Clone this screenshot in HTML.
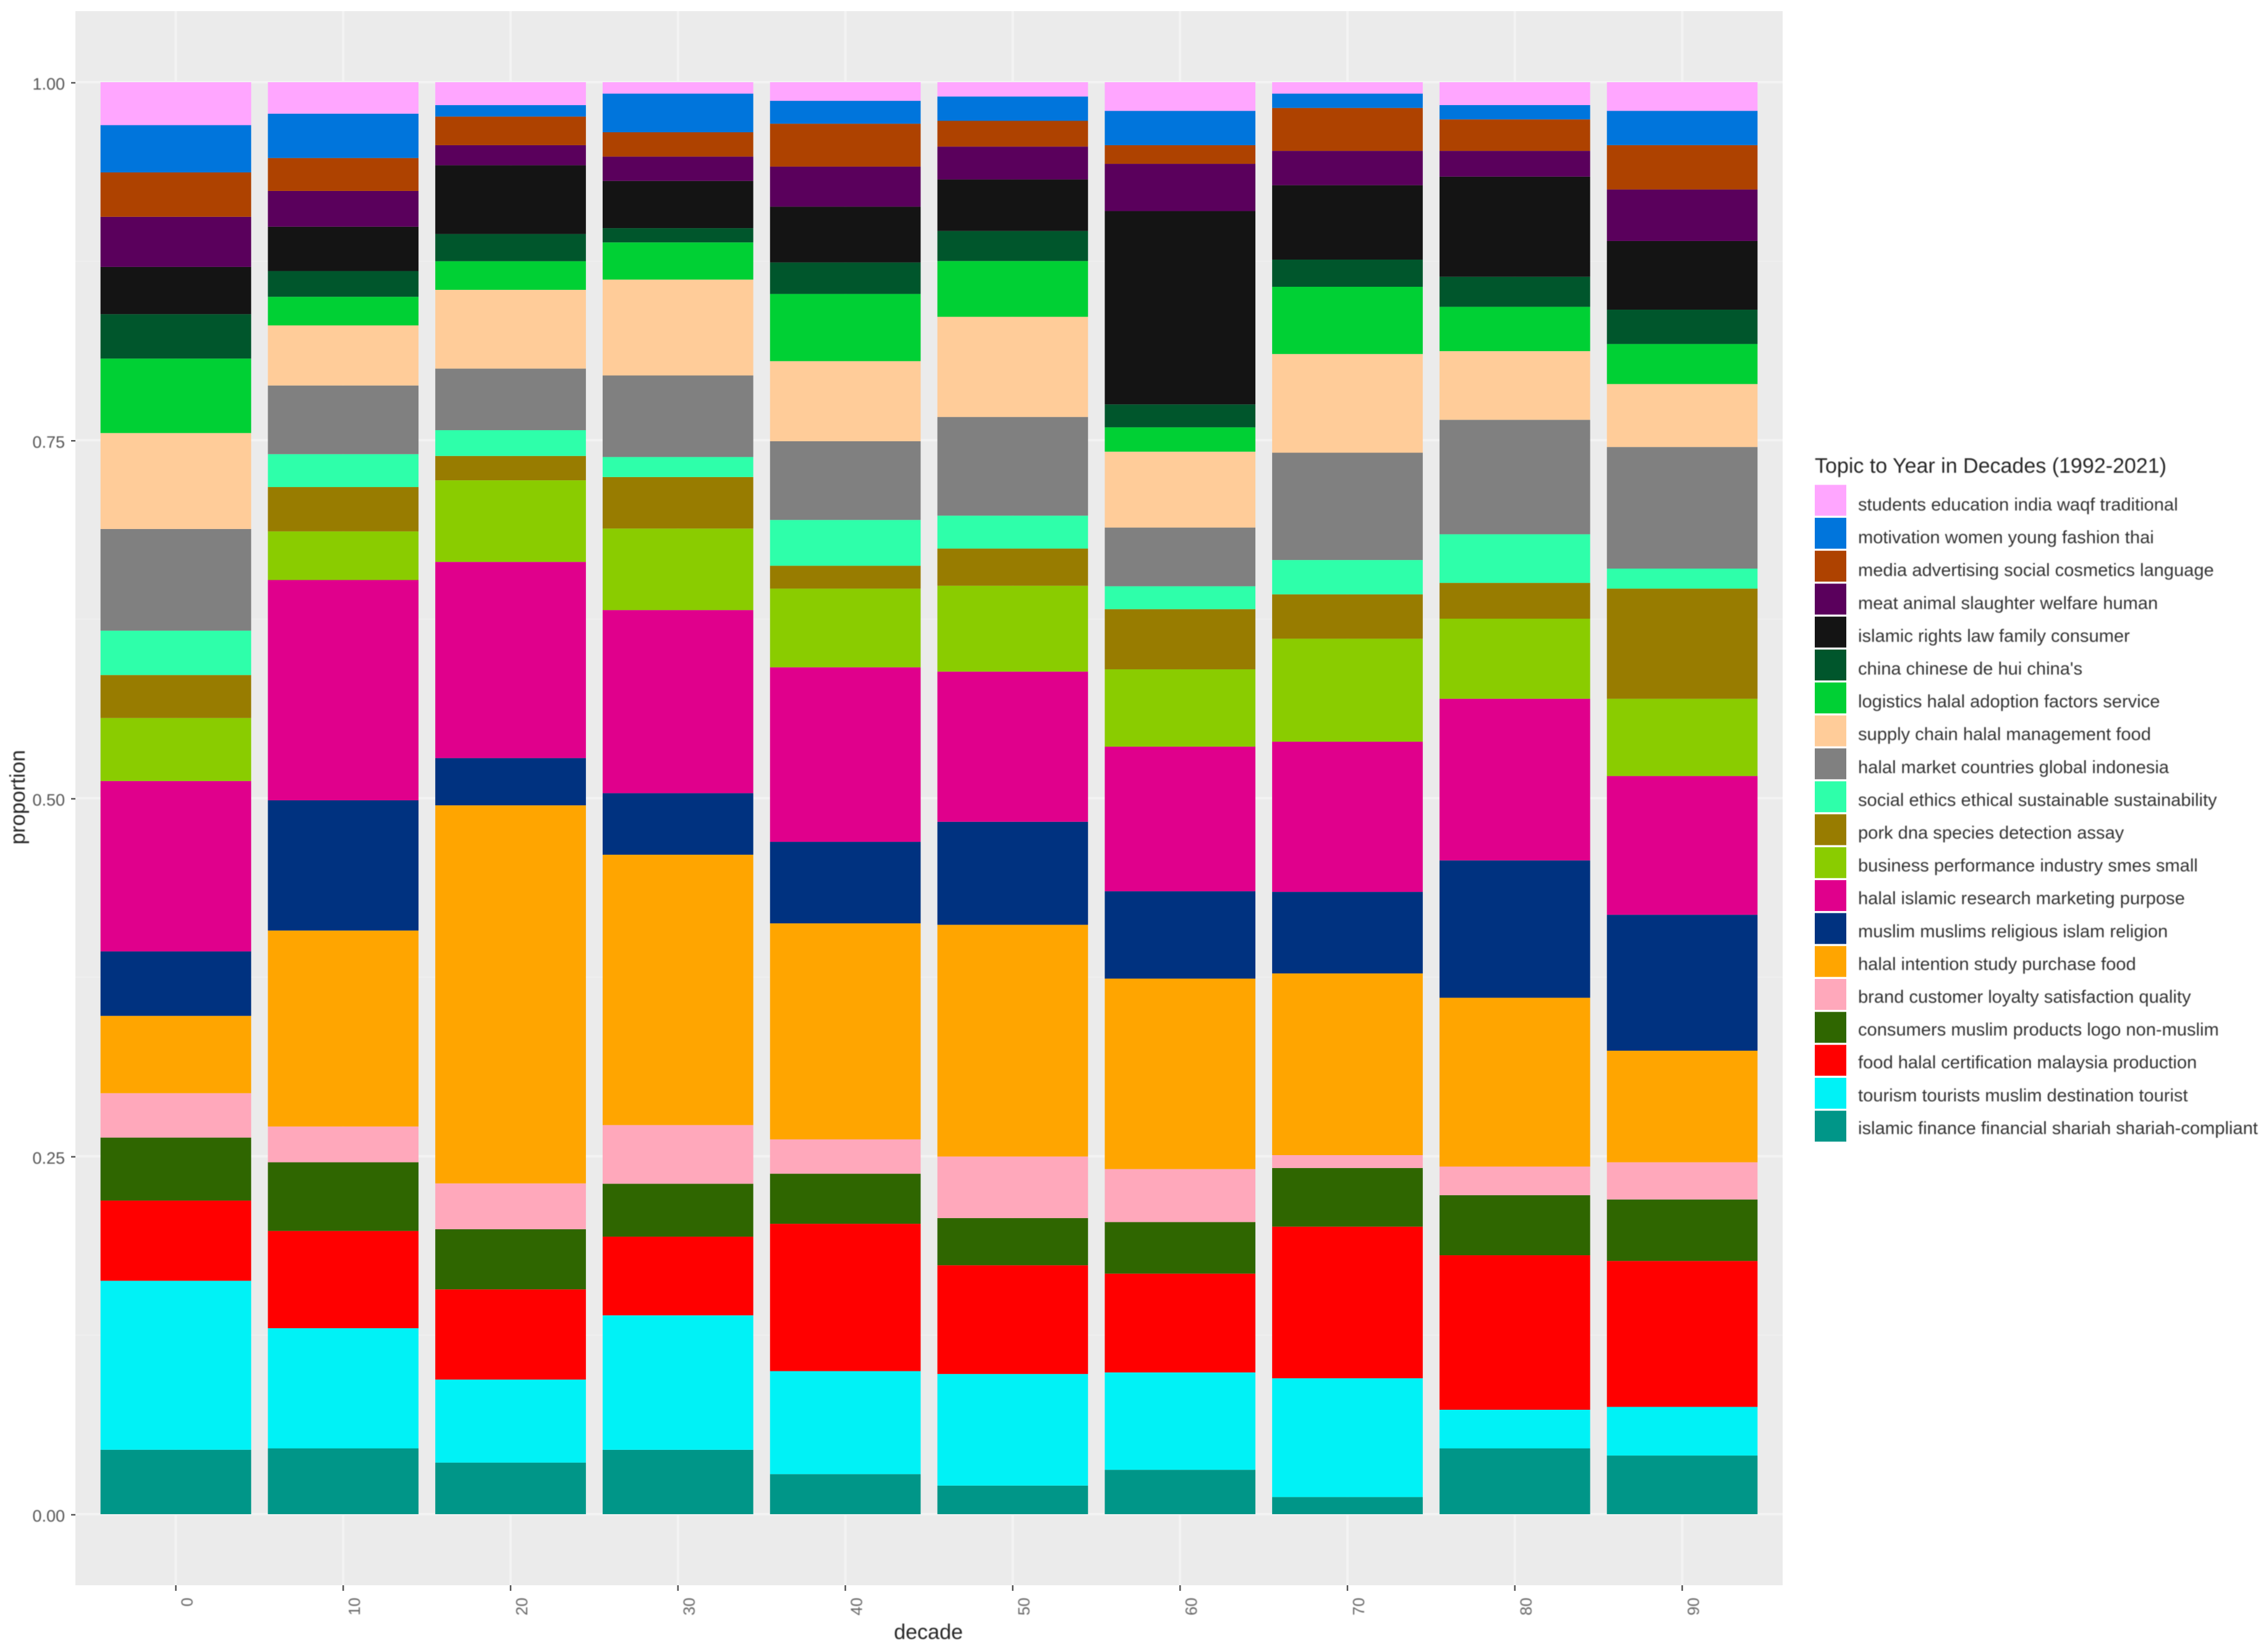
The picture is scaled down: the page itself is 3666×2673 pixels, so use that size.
<!DOCTYPE html>
<html lang="en">
<head>
<meta charset="utf-8">
<title>Topic to Year in Decades (1992-2021)</title>
<style>
  html, body { margin: 0; padding: 0; background: #ffffff; }
  svg { display: block; font-family: "Liberation Sans", Arial, sans-serif; }
  text { filter: blur(0.9px); }
</style>
</head>
<body>
<svg id="chart" xmlns="http://www.w3.org/2000/svg" width="3666" height="2673" viewBox="0 0 3666 2673">
  <rect x="0" y="0" width="3666" height="2673" fill="#ffffff"/>
  <rect x="122" y="18" width="2762" height="2547" fill="#ebebeb"/>
  <g id="grid"></g>
  <g id="bars"></g>
  <g id="y-axis"></g>
  <g id="x-axis"></g>
  <text x="1502" y="2652" font-size="34" text-anchor="middle" fill="#262626">decade</text>
  <text transform="translate(40 1290) rotate(-90)" font-size="34" text-anchor="middle" fill="#262626">proportion</text>
  <g id="legend">
    <text x="2936" y="765" font-size="34" fill="#262626">Topic to Year in Decades (1992-2021)</text>
  </g>
</svg>
<script>
// Categories and tick labels
const decades = ['0', '10', '20', '30', '40', '50', '60', '70', '80', '90'];
const yTicks = [0, 0.25, 0.5, 0.75, 1];
const yTickLabels = ['0.00', '0.25', '0.50', '0.75', '1.00'];
const yMinorTicks = [0.125, 0.375, 0.625, 0.875];

// Legend labels, top to bottom (stack order top to bottom)
const topics = [
  'students education india waqf traditional',
  'motivation women young fashion thai',
  'media advertising social cosmetics language',
  'meat animal slaughter welfare human',
  'islamic rights law family consumer',
  "china chinese de hui china's",
  'logistics halal adoption factors service',
  'supply chain halal management food',
  'halal market countries global indonesia',
  'social ethics ethical sustainable sustainability',
  'pork dna species detection assay',
  'business performance industry smes small',
  'halal islamic research marketing purpose',
  'muslim muslims religious islam religion',
  'halal intention study purchase food',
  'brand customer loyalty satisfaction quality',
  'consumers muslim products logo non-muslim',
  'food halal certification malaysia production',
  'tourism tourists muslim destination tourist',
  'islamic finance financial shariah shariah-compliant'
];

// Series values: proportion of each topic per decade
const students    = [.030, .022, .016, .008, .013, .010, .020, .008, .016, .020];
const motivation  = [.033, .031, .008, .027, .016, .017, .024, .010, .010, .024];
const media       = [.031, .023, .020, .017, .030, .018, .013, .030, .022, .031];
const meat        = [.035, .025, .014, .017, .028, .023, .033, .024, .018, .036];
const islamicLaw  = [.033, .031, .048, .033, .039, .036, .135, .052, .070, .048];
const china       = [.031, .018, .019, .010, .022, .021, .016, .019, .021, .024];
const logistics   = [.052, .020, .020, .026, .047, .039, .017, .047, .031, .028];
const supply      = [.067, .042, .055, .067, .056, .070, .053, .069, .048, .044];
const market      = [.071, .048, .043, .057, .055, .069, .041, .075, .080, .085];
const ethics      = [.031, .023, .018, .014, .032, .023, .016, .024, .034, .014];
const pork        = [.030, .031, .017, .036, .016, .026, .042, .031, .025, .077];
const business    = [.044, .034, .057, .057, .055, .060, .054, .072, .056, .054];
const research    = [.119, .154, .137, .128, .122, .105, .101, .105, .113, .097];
const muslim      = [.045, .091, .033, .043, .057, .072, .061, .057, .096, .095];
const intention   = [.054, .137, .264, .189, .151, .162, .133, .127, .118, .078];
const brand       = [.031, .025, .032, .041, .024, .043, .037, .009, .020, .026];
const consumers   = [.044, .048, .042, .037, .035, .033, .036, .041, .042, .043];
const food        = [.056, .068, .063, .055, .103, .076, .069, .106, .108, .102];
const tourism     = [.118, .084, .058, .094, .072, .078, .068, .083, .027, .034];
const finance     = [.045, .046, .036, .045, .028, .020, .031, .012, .046, .041];

const seriesValues = [students, motivation, media, meat, islamicLaw, china, logistics, supply, market, ethics,
  pork, business, research, muslim, intention, brand, consumers, food, tourism, finance];

const palette = ['#ffa6ff', '#0075dc', '#ae4200', '#5a005c', '#141414', '#00562c', '#00d034', '#ffcc99', '#808080', '#2effaa',
  '#987c00', '#8acc00', '#e0008c', '#003280', '#ffa500', '#ffa8bb', '#2f6600', '#ff0000', '#00f2f6', '#009688'];

// Axis functions
const SVG_NS = 'http://www.w3.org/2000/svg';
const panelLeft = 122, panelRight = 2884, panelTop = 18, panelBottom = 2565;
const yZero = 2450, yOne = 133;
const step = (panelRight - panelLeft) / (decades.length - 1 + 1.2);
function xCenter(i) { return panelLeft + (0.6 + i) * step; }
function yScale(v) { return yZero + (yOne - yZero) * v; }
const barWidth = step * 0.9;

function make(tag, attrs, parent) {
  const el = document.createElementNS(SVG_NS, tag);
  for (const k in attrs) el.setAttribute(k, attrs[k]);
  parent.appendChild(el);
  return el;
}
function slugOf(s) { return s.toLowerCase().replace(/[^a-z0-9]+/g, '-').replace(/-+$/, ''); }

// Grid
const gridG = document.getElementById('grid');
yMinorTicks.forEach(function (v) {
  const l = make('line', { x1: panelLeft, x2: panelRight, y1: yScale(v), y2: yScale(v), stroke: '#efefef', 'stroke-width': 2 }, gridG);
  
  
});
yTicks.forEach(function (v) {
  const l = make('line', { x1: panelLeft, x2: panelRight, y1: yScale(v), y2: yScale(v), stroke: '#f3f3f3', 'stroke-width': 4 }, gridG);
  
  
});
decades.forEach(function (d, i) {
  const l = make('line', { x1: xCenter(i), x2: xCenter(i), y1: panelTop, y2: panelBottom, stroke: '#f3f3f3', 'stroke-width': 4 }, gridG);
  
  
});

// Stacked bars (position = fill: each decade normalised to 1, last series at the bottom)
const barsG = document.getElementById('bars');
decades.forEach(function (d, i) {
  let total = 0;
  seriesValues.forEach(function (s) { total += s[i]; });
  let cum = 0;
  for (let t = seriesValues.length - 1; t >= 0; t--) {
    const share = seriesValues[t][i] / total;
    const y0 = yScale(cum);
    const y1 = yScale(cum + share);
    const r = make('rect', { x: xCenter(i) - barWidth / 2, y: y1, width: barWidth, height: y0 - y1, fill: palette[t] }, barsG);
    
    
    cum += share;
  }
});

// Y axis
const yG = document.getElementById('y-axis');
yTicks.forEach(function (v, i) {
  const tick = make('line', { x1: 115, x2: panelLeft, y1: yScale(v) + 1, y2: yScale(v) + 1, stroke: '#555555', 'stroke-width': 2.5 }, yG);
  
  
  const label = make('text', { x: 105, y: yScale(v) + 12, 'text-anchor': 'end', 'font-size': 27, fill: '#555555' }, yG);
  
  
  label.textContent = yTickLabels[i];
});

// X axis
const xG = document.getElementById('x-axis');
decades.forEach(function (d, i) {
  const tick = make('line', { x1: xCenter(i), x2: xCenter(i), y1: panelBottom, y2: panelBottom + 9, stroke: '#555555', 'stroke-width': 2.5 }, xG);
  
  
  const label = make('text', { transform: 'translate(' + (xCenter(i) + 27) + ' 2585) rotate(-90)', 'text-anchor': 'end', 'font-size': 26, fill: '#666666' }, xG);
  
  
  label.textContent = d;
});

// Legend
const legendG = document.getElementById('legend');
const swatchFirstY = 809.5, swatchRowH = 53.3;
const labelFirstY = 826, labelRowH = 53.1;
topics.forEach(function (name, i) {
  const sw = make('rect', { x: 2936, y: swatchFirstY + i * swatchRowH - 25, width: 51, height: 50, fill: palette[i] }, legendG);
  
  
  const tx = make('text', { x: 3006, y: labelFirstY + i * labelRowH, 'font-size': 29.1, fill: '#333333' }, legendG);
  
  
  tx.textContent = name;
});
</script>
</body>
</html>
